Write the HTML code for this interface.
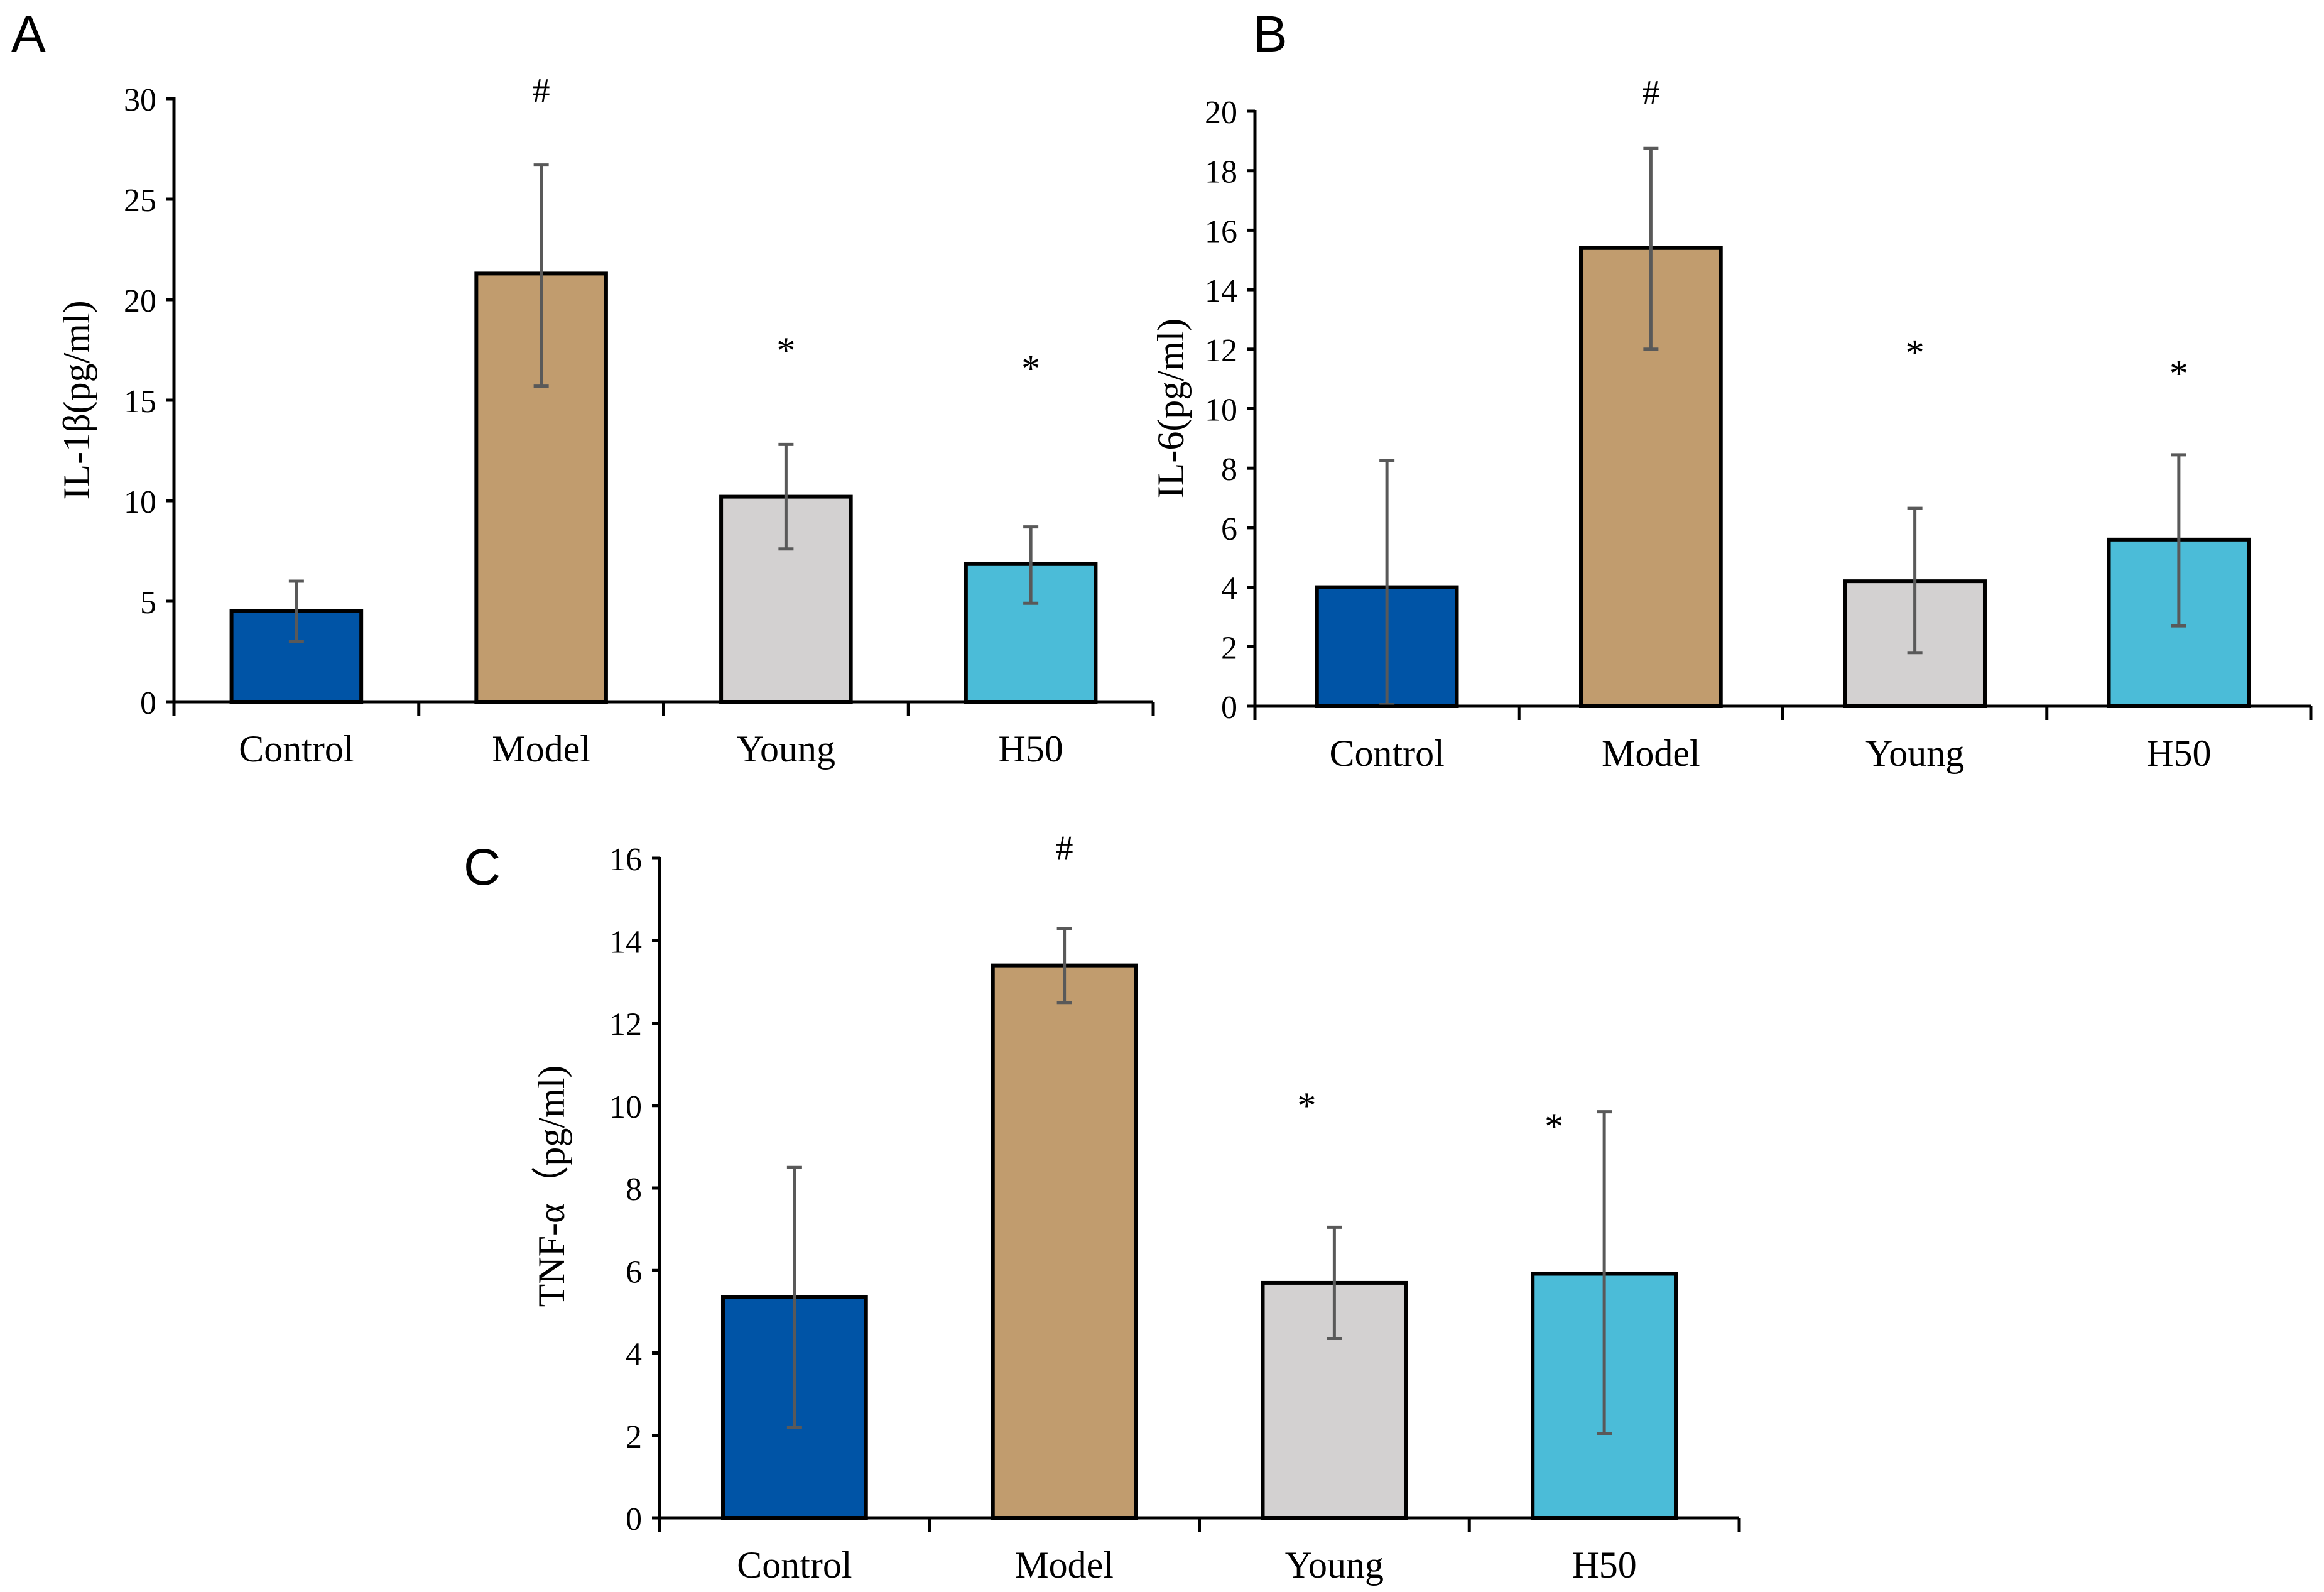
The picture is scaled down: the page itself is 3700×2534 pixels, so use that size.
<!DOCTYPE html>
<html><head><meta charset="utf-8"><style>
html,body{margin:0;padding:0;background:#fff;}
svg{display:block;}
text{font-family:"Liberation Serif",serif;fill:#000;}
.lbl{font-family:"Liberation Sans",sans-serif;}
</style></head><body>
<svg id="fig" width="3700" height="2534" viewBox="0 0 3700 2534">
<rect width="3700" height="2534" fill="#fff"/>
<text class="lbl" x="18" y="82" font-size="82">A</text>
<text class="lbl" x="1995" y="82" font-size="82">B</text>
<text class="lbl" x="738" y="1408" font-size="82">C</text>
</svg>
<script>
const categories = ["Control","Model","Young","H50"];
const colors = ["#0054A6","#C19C6E","#D3D1D1","#4BBCD8"];
// Panel A: IL-1β
const aValues = [4.5, 21.3, 10.2, 6.85];
const aErrLow = [3.0, 15.7, 7.6, 4.9];
const aErrHigh = [6.0, 26.7, 12.8, 8.7];
const aTicks = [0,5,10,15,20,25,30];
const aMarks = ["", "#", "*", "*"];
const aMarkVals = [null, 30.5, 18.1, 17.2];
// Panel B: IL-6
const bValues = [4.0, 15.4, 4.2, 5.6];
const bErrLow = [0.05, 12.0, 1.8, 2.7];
const bErrHigh = [8.25, 18.75, 6.65, 8.45];
const bTicks = [0,2,4,6,8,10,12,14,16,18,20];
const bMarks = ["", "#", "*", "*"];
const bMarkVals = [null, 20.7, 12.3, 11.6];
// Panel C: TNF-α
const cValues = [5.35, 13.4, 5.7, 5.92];
const cErrLow = [2.2, 12.5, 4.35, 2.05];
const cErrHigh = [8.5, 14.3, 7.05, 9.85];
const cTicks = [0,2,4,6,8,10,12,14,16];
const cMarks = ["", "#", "*", "*"];
const cMarkVals = [null, 16.3, 10.3, 9.8];

const NS = "http://www.w3.org/2000/svg";
const svg = document.getElementById("fig");
function mk(tag, attrs, parent){
  const e = document.createElementNS(NS, tag);
  for (const k in attrs) e.setAttribute(k, attrs[k]);
  (parent||svg).appendChild(e);
  return e;
}
function panel(p, vals, lo, hi, ticks, marks, markVals, title, key){
  const g = mk("g", {});
  
  
  const maxV = ticks[ticks.length-1];
  const y = v => p.y0 - (v/maxV)*(p.y0-p.yTop);
  const band = (p.xR - p.x0)/categories.length;
  const cx = i => p.x0 + band*(i+0.5);
  const bw = band*0.53;
  vals.forEach((v,i)=>{
    const r = mk("rect", {x:cx(i)-bw/2, y:y(v), width:bw, height:p.y0-y(v), fill:colors[i], stroke:"#000", "stroke-width":6}, g);
    
    
  });
  vals.forEach((v,i)=>{
    const eg = mk("g", {stroke:"#595959","stroke-width":5}, g);
    
    
    mk("line",{x1:cx(i),x2:cx(i),y1:y(lo[i]),y2:y(hi[i])},eg);
    mk("line",{x1:cx(i)-12,x2:cx(i)+12,y1:y(lo[i]),y2:y(lo[i])},eg);
    mk("line",{x1:cx(i)-12,x2:cx(i)+12,y1:y(hi[i]),y2:y(hi[i])},eg);
  });
  marks.forEach((m,i)=>{
    if(!m) return;
    const t = mk("text",{x:cx(i)+(p.markDx?p.markDx[i]:0), y:y(markVals[i])+ (m==="#"?22:40), "font-size":m==="#"?56:60, "text-anchor":"middle"}, g);
    t.textContent = m;
    
    
  });
  const ax = mk("g",{stroke:"#000","stroke-width":5},g);
  
  
  mk("line",{x1:p.x0,x2:p.x0,y1:p.yTop-2,y2:p.y0+22},ax);
  mk("line",{x1:p.x0,x2:p.xR,y1:p.y0,y2:p.y0},ax);
  for(let i=0;i<=categories.length;i++){
    const xx = p.x0 + band*i;
    mk("line",{x1:xx,x2:xx,y1:p.y0,y2:p.y0+22},ax);
  }
  ticks.forEach(t=>{
    mk("line",{x1:p.x0-12,x2:p.x0,y1:y(t),y2:y(t)},ax);
    const tl = mk("text",{x:p.x0-28, y:y(t)+19, "font-size":52, "text-anchor":"end"}, g);
    tl.textContent = t;
    
    
  });
  categories.forEach((c,i)=>{
    const tl = mk("text",{x:cx(i), y:p.y0+95, "font-size":60, "text-anchor":"middle"}, g);
    tl.textContent = c;
    
    
  });
  const yt = mk("text",{x:0,y:0,"font-size":60,"text-anchor":"middle",transform:`translate(${p.titleX},${p.titleY}) rotate(-90)`}, g);
  yt.textContent = title;
  
  
}
panel({x0:277,xR:1836,yTop:157,y0:1117,titleX:142,titleY:637}, aValues,aErrLow,aErrHigh,aTicks,aMarks,aMarkVals,"IL-1β(pg/ml)","a");
panel({x0:1998,xR:3679,yTop:177,y0:1124,titleX:1884,titleY:650}, bValues,bErrLow,bErrHigh,bTicks,bMarks,bMarkVals,"IL-6(pg/ml)","b");
panel({x0:1050,xR:2769,yTop:1366,y0:2416,titleX:898,titleY:1888,markDx:[0,0,-44,-80]}, cValues,cErrLow,cErrHigh,cTicks,cMarks,cMarkVals,"TNF-α（pg/ml)","c");
</script>
</body></html>
